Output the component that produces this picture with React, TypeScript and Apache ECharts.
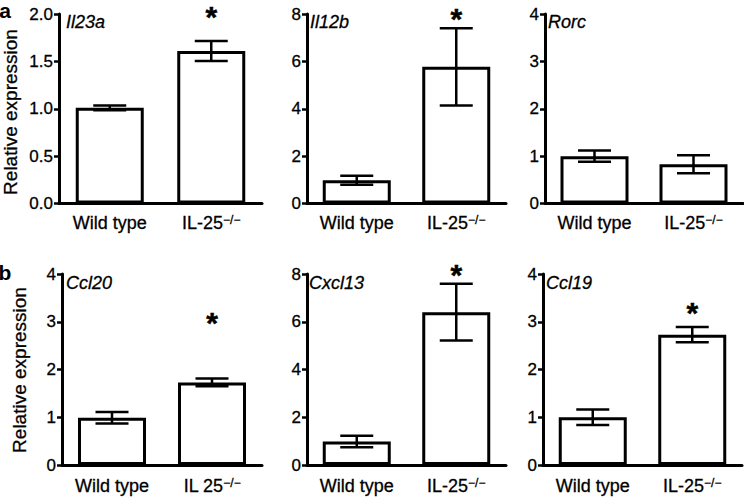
import React, { useEffect, useRef } from "react";
import * as echarts from "echarts";

// ---- data ----
const genes = ["Il23a", "Il12b", "Rorc", "Ccl20", "Cxcl13", "Ccl19"];
const groupLabels = ["Wild type", "IL-25"];
const groupLabelsAlt = ["Wild type", "IL 25"]; // panel Ccl20 prints "IL 25"
const knockoutSup = "\u2212/\u2212";
const wildTypeMeans = [1.01, 0.98, 1.0, 0.99, 0.98, 1.0];
const wildTypeErr = [0.025, 0.19, 0.12, 0.12, 0.24, 0.16];
const knockoutMeans = [1.61, 5.77, 0.83, 1.73, 6.4, 2.73];
const knockoutErr = [0.105, 1.63, 0.19, 0.08, 1.19, 0.16];
const starValues = [2.02, 8.02, null, 3.07, 8.17, 3.29];
const yMaxes = [2, 8, 4, 4, 8, 4];
const yIntervals = [0.5, 2, 1, 1, 2, 1];
const yTitle = "Relative expression";
const panelLetters = ["a", "b"];

// ---- layout ----
const gridLeft = [59, 307, 545, 62, 307, 543];
const gridWidth = [203, 199, 198, 200, 199, 199];
const rowTop = [14, 274];
const rowHeight = [189.5, 191];
const geneX = [66, 310, 548, 66, 309, 546];
const geneY = [22, 283];
const titleX = [10.5, 19];
const titleY = [112, 370];
const catMargin = [10, 12];
const FONT = "Liberation Sans, Arial, Helvetica, sans-serif";

export default function App() {
  const ref = useRef<HTMLDivElement>(null);
  useEffect(() => {
    if (!ref.current) return;
    const chart = echarts.init(ref.current, null, { renderer: "svg" });
    const grids: any[] = [];
    const xAxes: any[] = [];
    const yAxes: any[] = [];
    const series: any[] = [];
    const graphics: any[] = [];

    for (let i = 0; i < 6; i++) {
      const row = i < 3 ? 0 : 1;
      grids.push({
        left: gridLeft[i],
        width: gridWidth[i],
        top: rowTop[row],
        height: rowHeight[row],
        containLabel: false,
      });
      const labels = i === 3 ? groupLabelsAlt : groupLabels;
      xAxes.push({
        type: "category",
        gridIndex: i,
        data: labels,
        axisLine: { lineStyle: { color: "#000", width: 3 } },
        axisTick: { alignWithLabel: true, length: 6, lineStyle: { color: "#000", width: 2.5 } },
        axisLabel: {
          margin: catMargin[row],
          color: "#000",
          fontFamily: FONT,
          fontSize: 18,
          interval: 0,
          formatter: (v: string, idx: number) =>
            idx === 1 ? `{n|${v}}{s|${knockoutSup}}` : `{n|${v}}`,
          rich: {
            n: { fontSize: 18, fontFamily: FONT, color: "#000", textBorderColor: "#000", textBorderWidth: 0.3 },
            s: { fontSize: 12, fontFamily: FONT, color: "#000", verticalAlign: "top", lineHeight: 11, textBorderColor: "#000", textBorderWidth: 0.3 },
          },
        },
        splitLine: { show: false },
      });
      yAxes.push({
        type: "value",
        gridIndex: i,
        min: 0,
        max: yMaxes[i],
        interval: yIntervals[i],
        axisLine: { show: true, lineStyle: { color: "#000", width: 3 } },
        axisTick: { show: true, length: 5, lineStyle: { color: "#000", width: 2.5 } },
        axisLabel: {
          margin: 6,
          color: "#000",
          fontFamily: FONT,
          fontSize: 17,
          textBorderColor: "#000",
          textBorderWidth: 0.3,
          formatter: (v: number) => (yIntervals[i] < 1 ? v.toFixed(1) : String(v)),
        },
        splitLine: { show: false },
      });
      series.push({
        type: "bar",
        xAxisIndex: i,
        yAxisIndex: i,
        data: [wildTypeMeans[i], knockoutMeans[i]],
        barWidth: 68,
        itemStyle: { color: "#fff", borderColor: "#000", borderWidth: 3 },
        silent: true,
      });
      series.push({
        type: "custom",
        xAxisIndex: i,
        yAxisIndex: i,
        clip: false,
        encode: { x: 0, y: [1, 2] },
        data: [
          [0, wildTypeMeans[i] - wildTypeErr[i], wildTypeMeans[i] + wildTypeErr[i]],
          [1, knockoutMeans[i] - knockoutErr[i], knockoutMeans[i] + knockoutErr[i]],
        ],
        renderItem: (params: any, api: any) => {
          const x = api.value(0);
          const hi = api.coord([x, api.value(2)]);
          const lo = api.coord([x, api.value(1)]);
          const hw = 16.5;
          const st = { stroke: "#000", lineWidth: 2.5, fill: "none" };
          return {
            type: "group",
            children: [
              { type: "line", shape: { x1: hi[0], y1: hi[1], x2: lo[0], y2: lo[1] }, style: st },
              { type: "line", shape: { x1: hi[0] - hw, y1: hi[1], x2: hi[0] + hw, y2: hi[1] }, style: st },
              { type: "line", shape: { x1: lo[0] - hw, y1: lo[1], x2: lo[0] + hw, y2: lo[1] }, style: st },
            ],
          };
        },
        silent: true,
        z: 3,
      });
      if (starValues[i] != null) {
        series.push({
          type: "scatter",
          xAxisIndex: i,
          yAxisIndex: i,
          clip: false,
          symbol: "circle",
          symbolSize: 1,
          itemStyle: { color: "rgba(0,0,0,0)", opacity: 1 },
          data: [[1, starValues[i]]],
          label: {
            show: true,
            position: "inside",
            formatter: "*",
            fontSize: 30,
            fontWeight: "bold",
            fontFamily: FONT,
            color: "#000",
            opacity: 1,
            textBorderColor: "#000",
            textBorderWidth: 0.5,
            offset: [0, 4.5],
          },
          silent: true,
          z: 4,
        });
      }
      graphics.push({
        type: "text",
        x: geneX[i],
        y: geneY[row],
        style: {
          text: genes[i],
          fontFamily: FONT,
          fontSize: 18,
          fontStyle: "italic",
          fill: "#000",
          stroke: "#000",
          lineWidth: 0.3,
          textAlign: "left",
          textVerticalAlign: "middle",
        },
      });
    }
    for (let r = 0; r < 2; r++) {
      graphics.push({
        type: "text",
        x: titleX[r],
        y: titleY[r],
        rotation: Math.PI / 2,
        style: {
          text: yTitle,
          fontFamily: FONT,
          fontSize: 19,
          fill: "#000",
          stroke: "#000",
          lineWidth: 0.3,
          textAlign: "center",
          textVerticalAlign: "middle",
        },
      });
      graphics.push({
        type: "text",
        x: 5,
        y: r === 0 ? 10 : 272,
        style: {
          text: panelLetters[r],
          fontFamily: FONT,
          fontSize: 21,
          fontWeight: "bold",
          fill: "#000",
          textAlign: "center",
          textVerticalAlign: "middle",
        },
      });
    }

    chart.setOption({
      animation: false,
      backgroundColor: "#fff",
      grid: grids,
      xAxis: xAxes,
      yAxis: yAxes,
      series,
      graphic: { elements: graphics },
    });
    return () => chart.dispose();
  }, []);
  return (
    <div
      ref={ref}
      style={{ position: "fixed", left: 0, top: 0, width: 744, height: 499, background: "#fff" }}
    />
  );
}
